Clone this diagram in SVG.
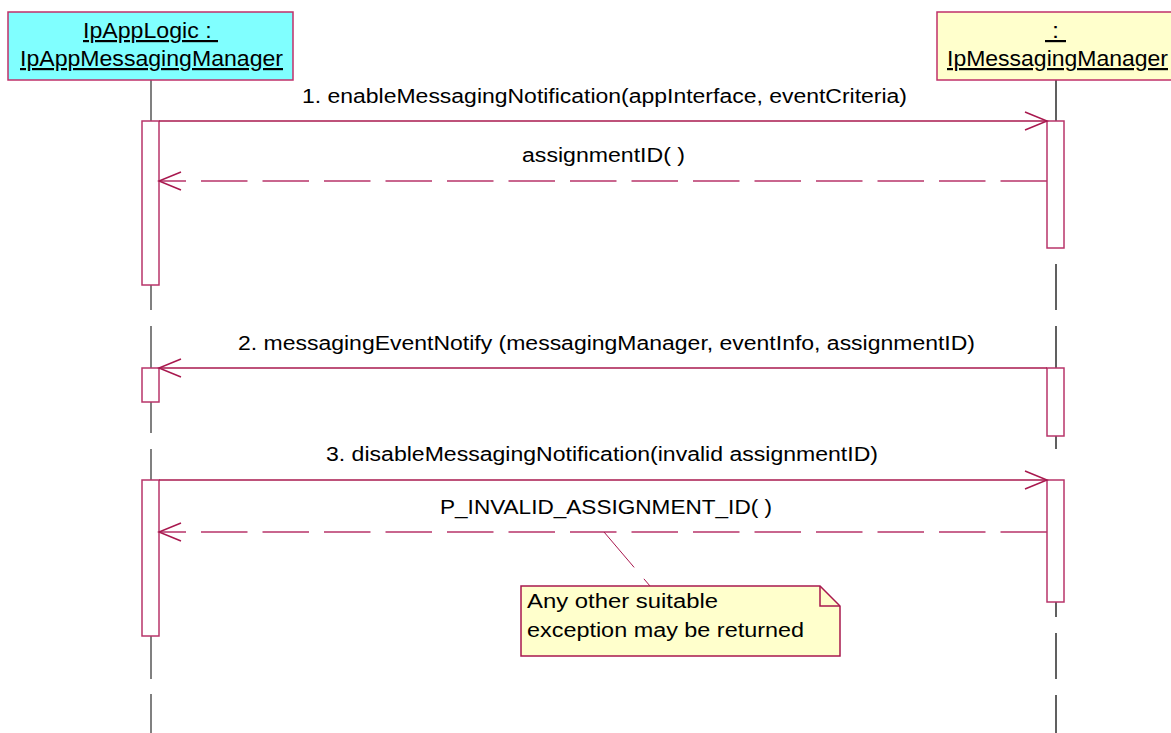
<svg xmlns="http://www.w3.org/2000/svg" width="1171" height="733" viewBox="0 0 1171 733">
<defs>
<style>
text{font-family:"Liberation Sans",Arial,sans-serif;fill:#000}
.hdr{font-size:22px;text-decoration:underline}
.lbl{font-size:19.5px}
.note{font-size:20px}
.life{stroke:#808080;stroke-width:2;fill:none}
.act{fill:#fff;stroke:#B8356A;stroke-width:1.5}
.msg{stroke:#A8184E;stroke-width:1.5;fill:none}
.ret{stroke:#B8356A;stroke-width:1.5;fill:none;stroke-dasharray:46.5 15}
</style>
<marker id="open" markerWidth="26" markerHeight="22" refX="23" refY="11" orient="auto" markerUnits="userSpaceOnUse">
<path d="M1,2 L23,11 L1,20" fill="none" stroke="#A8184E" stroke-width="1.5"/>
</marker>
</defs>
<rect width="1171" height="733" fill="#fff"/>
<g id="lifelines">
<path class="life" d="M151,80V121 M151,285V310 M151,326V368 M151,402V433 M151,449V480 M151,636V679 M151,694V733"/>
<path class="life" d="M1056,80V121 M1056,264V310 M1056,326V368 M1056,436V449 M1056,602V617 M1056,633V679 M1056,695V733" style="stroke:#606060"/>
</g>
<g id="appLogic">
<rect x="8" y="12" width="285" height="68" fill="#80FFFF" stroke="#C0306A" stroke-width="1.5"/>
<text class="hdr" x="83" y="38" xml:space="preserve" textLength="135" lengthAdjust="spacingAndGlyphs">IpAppLogic : </text>
<text class="hdr" x="20" y="66" textLength="263" lengthAdjust="spacingAndGlyphs">IpAppMessagingManager</text>
</g>
<g id="msgManager">
<rect x="937" y="12" width="240" height="68" fill="#FFFFCC" stroke="#C0306A" stroke-width="1.5"/>
<text class="hdr" x="1045" y="38" xml:space="preserve" textLength="21" lengthAdjust="spacingAndGlyphs"> : </text>
<text class="hdr" x="947" y="66" textLength="221" lengthAdjust="spacingAndGlyphs">IpMessagingManager</text>
</g>
<g id="activations">
<rect class="act" x="142" y="121" width="17" height="164"/>
<rect class="act" x="142" y="368" width="17" height="34"/>
<rect class="act" x="142" y="480" width="17" height="156"/>
<rect class="act" x="1047" y="121" width="17" height="127"/>
<rect class="act" x="1047" y="368" width="17" height="68"/>
<rect class="act" x="1047" y="480" width="17" height="122"/>
</g>
<g id="connectors">
<line class="msg" x1="159" y1="121" x2="1047" y2="121" marker-end="url(#open)"/>
<text class="lbl" x="302" y="103" textLength="605" lengthAdjust="spacingAndGlyphs">1. enableMessagingNotification(appInterface, eventCriteria)</text>
<line class="ret" x1="1047" y1="181" x2="159" y2="181" marker-end="url(#open)"/>
<text class="lbl" x="522" y="162" textLength="163" lengthAdjust="spacingAndGlyphs">assignmentID( )</text>
<line class="msg" x1="1047" y1="368" x2="159" y2="368" marker-end="url(#open)"/>
<text class="lbl" x="238" y="350" textLength="737" lengthAdjust="spacingAndGlyphs">2. messagingEventNotify (messagingManager, eventInfo, assignmentID)</text>
<line class="msg" x1="159" y1="480" x2="1047" y2="480" marker-end="url(#open)"/>
<text class="lbl" x="326" y="461" textLength="552" lengthAdjust="spacingAndGlyphs">3. disableMessagingNotification(invalid assignmentID)</text>
<line class="ret" x1="1047" y1="532" x2="159" y2="532" marker-end="url(#open)"/>
<text class="lbl" x="440" y="514" textLength="332" lengthAdjust="spacingAndGlyphs">P_INVALID_ASSIGNMENT_ID( )</text>
<line class="ret" x1="604" y1="532" x2="650" y2="586" style="stroke:#A8184E;stroke-width:1"/>
</g>
<g id="note">
<path d="M521,586 H820 L840,606 V656 H521 Z" fill="#FFFFCC" stroke="#A8184E" stroke-width="1.5"/>
<path d="M820,586 V606 H840" fill="none" stroke="#A8184E" stroke-width="1.5"/>
<text class="note" x="527" y="608" textLength="191" lengthAdjust="spacingAndGlyphs">Any other suitable</text>
<text class="note" x="527" y="637" textLength="277" lengthAdjust="spacingAndGlyphs">exception may be returned</text>
</g>
</svg>
